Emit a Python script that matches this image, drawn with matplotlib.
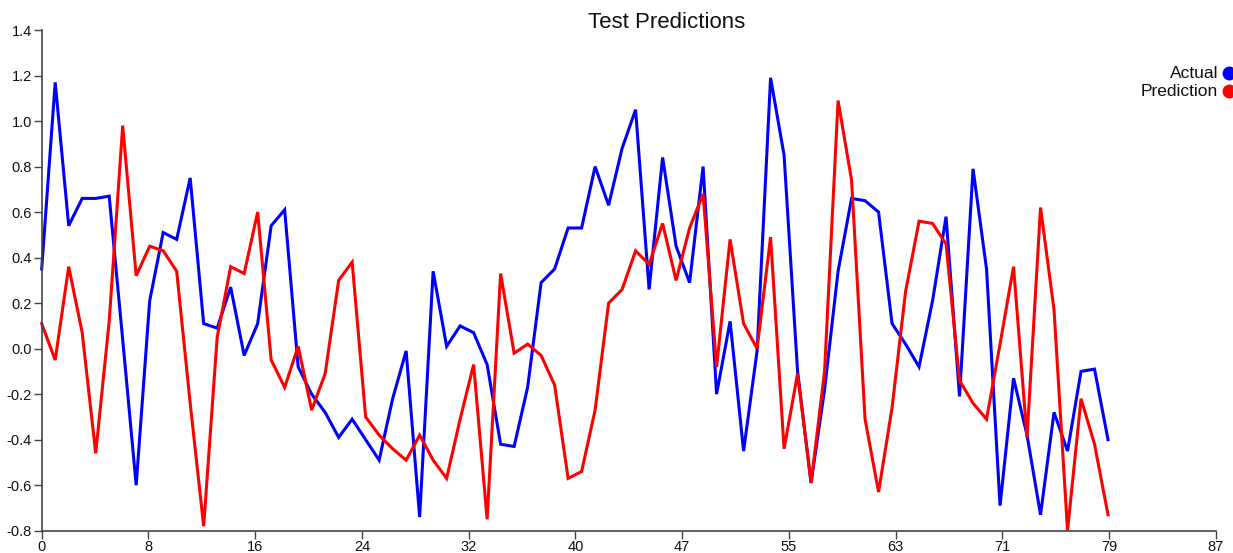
import numpy as np
import matplotlib
matplotlib.use("Agg")
import matplotlib.pyplot as plt
from matplotlib.lines import Line2D

plt.rcParams['font.family'] = ['Liberation Sans', 'DejaVu Sans']

title = "Test Predictions"
series_names = ["Actual", "Prediction"]
actual = [0.35, 1.17, 0.54, 0.66, 0.66, 0.67, 0.04, -0.60, 0.21, 0.51,
          0.48, 0.75, 0.11, 0.09, 0.27, -0.03, 0.11, 0.54, 0.61, -0.08,
          -0.20, -0.28, -0.39, -0.31, -0.40, -0.49, -0.22, -0.01, -0.74, 0.34,
          0.01, 0.10, 0.07, -0.07, -0.42, -0.43, -0.17, 0.29, 0.35, 0.53,
          0.53, 0.80, 0.63, 0.88, 1.05, 0.26, 0.84, 0.45, 0.29, 0.80,
          -0.20, 0.12, -0.45, -0.01, 1.19, 0.85, -0.10, -0.59, -0.18, 0.34,
          0.66, 0.65, 0.60, 0.11, 0.02, -0.08, 0.21, 0.58, -0.21, 0.79,
          0.35, -0.69, -0.13, -0.38, -0.73, -0.28, -0.45, -0.10, -0.09, -0.40]
prediction = [0.11, -0.05, 0.36, 0.07, -0.46, 0.12, 0.98, 0.32, 0.45, 0.43,
              0.34, -0.24, -0.78, 0.05, 0.36, 0.33, 0.60, -0.05, -0.17, 0.01,
              -0.27, -0.11, 0.30, 0.38, -0.30, -0.38, -0.44, -0.49, -0.38, -0.49,
              -0.57, -0.31, -0.07, -0.75, 0.33, -0.02, 0.02, -0.03, -0.16, -0.57,
              -0.54, -0.27, 0.20, 0.26, 0.43, 0.37, 0.55, 0.30, 0.53, 0.68,
              -0.08, 0.48, 0.11, 0.00, 0.49, -0.44, -0.11, -0.59, -0.10, 1.09,
              0.74, -0.31, -0.63, -0.26, 0.25, 0.56, 0.55, 0.46, -0.14, -0.24,
              -0.31, 0.02, 0.36, -0.39, 0.62, 0.17, -0.80, -0.22, -0.42, -0.73]
x_max = 87
y_ticks = [-0.8, -0.6, -0.4, -0.2, 0.0, 0.2, 0.4, 0.6, 0.8, 1.0, 1.2, 1.4]

W, H = 1233, 553
fig = plt.figure(figsize=(W / 100, H / 100), dpi=100)
left, right, bottom, top = 41.7, 1216, 530.7, 30
ax = fig.add_axes([left / W, 1 - bottom / H, (right - left) / W, (bottom - top) / H])

x = np.arange(len(actual))
ax.plot(x, actual, color='#0000ff', lw=2.2, solid_joinstyle='miter', clip_on=False)
ax.plot(x, prediction, color='#ff0000', lw=2.2, solid_joinstyle='miter', clip_on=False)

ax.set_xlim(0, x_max)
ax.set_ylim(-0.8, 1.4)
xt = np.linspace(0, x_max, 12)
ax.set_xticks(xt)
ax.set_xticklabels([str(int(round(v))) for v in xt])
ax.set_yticks(y_ticks)
ax.set_yticklabels([f"{v:.1f}" for v in y_ticks])

for s in ['top', 'right']:
    ax.spines[s].set_visible(False)
for s in ['left', 'bottom']:
    ax.spines[s].set_color('#444444')
    ax.spines[s].set_linewidth(1.2)
ax.tick_params(direction='out', length=6, width=1, colors='#444444',
               labelcolor='#111111', labelsize=10.5, pad=1)

fig.text(667 / W, 1 - 22 / H, title, ha='center', va='center', fontsize=16, color='#111111')

for i, (name, col) in enumerate(zip(series_names, ['#0000ff', '#ff0000'])):
    yy = 1 - (73 + 18 * i) / H
    fig.text(1218 / W, yy, name, ha='right', va='center', fontsize=12.5, color='#111111')
    fig.add_artist(Line2D([1229 / W], [yy], marker='o', markersize=9, color=col,
                          linestyle='none', transform=fig.transFigure))

fig.savefig('out.png', dpi=100)
